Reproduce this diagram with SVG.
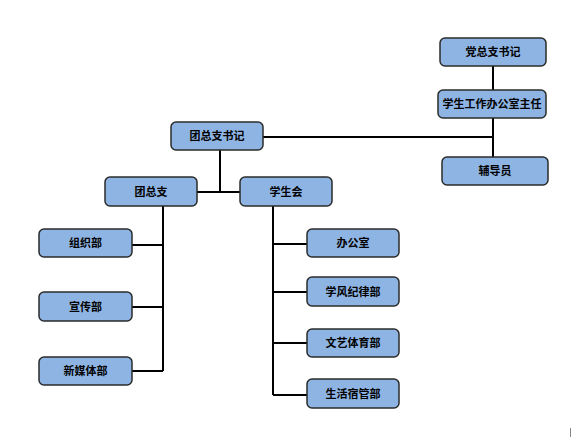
<svg xmlns="http://www.w3.org/2000/svg" width="571" height="438" viewBox="0 0 571 438">
<style>
.box{fill:#8EB4E3;stroke:#2b2b2b;stroke-width:1.5}
.lbl{font-family:"Liberation Sans","Noto Sans CJK SC",sans-serif;font-size:11px;font-weight:bold;fill:#000;text-anchor:middle;dominant-baseline:central}
.con{stroke:#000;stroke-width:2;fill:none}
</style>
<rect width="571" height="438" fill="#fff"/>
<g id="connectors">
<path class="con" d="M493 66V157M263 137H493"/>
<path class="con" d="M220 150V192M197 192H240"/>
<path class="con" d="M163 206V371M132 245H163M132 307H163M132 371H163"/>
<path class="con" d="M273 206V395M273 244H307M273 292H307M273 343H307M273 395H307"/>
</g>
<g id="n1"><rect class="box" x="440" y="38" width="106" height="28" rx="5"/><text class="lbl" x="493" y="52">党总支书记</text></g>
<g id="n2"><rect class="box" x="438" y="90" width="108" height="28" rx="5"/><text class="lbl" x="492" y="104">学生工作办公室主任</text></g>
<g id="n3"><rect class="box" x="442" y="157" width="106" height="28" rx="5"/><text class="lbl" x="495" y="171">辅导员</text></g>
<g id="n4"><rect class="box" x="171" y="122" width="92" height="28" rx="5"/><text class="lbl" x="217" y="136">团总支书记</text></g>
<g id="n5"><rect class="box" x="105" y="177" width="92" height="29" rx="5"/><text class="lbl" x="151" y="191.5">团总支</text></g>
<g id="n6"><rect class="box" x="240" y="177" width="92" height="29" rx="5"/><text class="lbl" x="286" y="191.5">学生会</text></g>
<g id="n7"><rect class="box" x="39" y="229" width="93" height="28" rx="5"/><text class="lbl" x="85.5" y="243">组织部</text></g>
<g id="n8"><rect class="box" x="39" y="292" width="93" height="29" rx="5"/><text class="lbl" x="85.5" y="306.5">宣传部</text></g>
<g id="n9"><rect class="box" x="39" y="357" width="93" height="28" rx="5"/><text class="lbl" x="85.5" y="371">新媒体部</text></g>
<g id="n10"><rect class="box" x="307" y="229" width="92" height="28" rx="5"/><text class="lbl" x="353" y="243">办公室</text></g>
<g id="n11"><rect class="box" x="307" y="277" width="92" height="29" rx="5"/><text class="lbl" x="353" y="291.5">学风纪律部</text></g>
<g id="n12"><rect class="box" x="307" y="329" width="92" height="28" rx="5"/><text class="lbl" x="353" y="343">文艺体育部</text></g>
<g id="n13"><rect class="box" x="307" y="379" width="92" height="29" rx="5"/><text class="lbl" x="353" y="393.5">生活宿管部</text></g>
<line x1="570.5" y1="428" x2="570.5" y2="437" stroke="#888" stroke-width="1"/>
</svg>
